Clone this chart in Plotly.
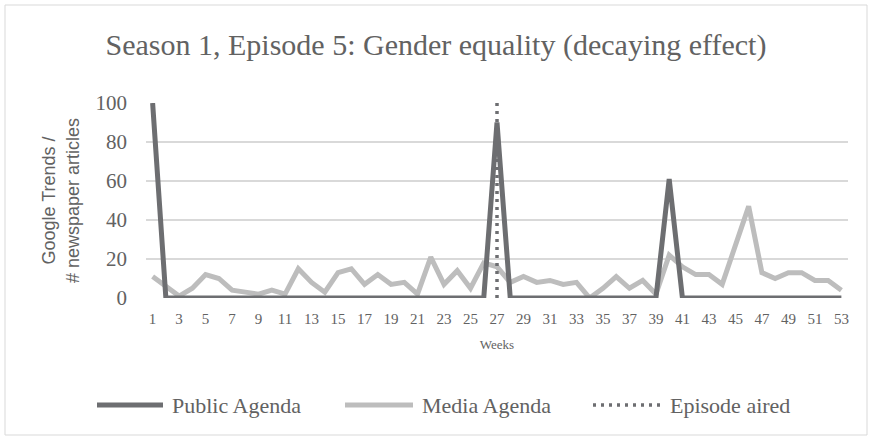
import plotly.graph_objects as go

weeks = list(range(1, 54))
public_agenda = [100, 0, 0, 0, 0, 0, 0, 0, 0, 0, 0, 0, 0, 0, 0, 0, 0, 0, 0, 0,
                 0, 0, 0, 0, 0, 0, 90, 0, 0, 0, 0, 0, 0, 0, 0, 0, 0, 0, 0, 61,
                 0, 0, 0, 0, 0, 0, 0, 0, 0, 0, 0, 0, 0]
media_agenda = [11, 6, 1, 5, 12, 10, 4, 3, 2, 4, 2, 15, 8, 3, 13, 15, 7, 12, 7, 8,
                2, 21, 7, 14, 5, 18, 16, 8, 11, 8, 9, 7, 8, 0, 5, 11, 5, 9, 2, 22,
                16, 12, 12, 7, 27, 47, 13, 10, 13, 13, 9, 9, 4]
episode_week = [27, 27]
episode_y = [0, 100]
x_ticks = list(range(1, 54, 2))
y_ticks = [0, 20, 40, 60, 80, 100]

DARK = "#6d6e71"
LIGHT = "#bdbdbd"
TXT = "#626262"
SERIF = "Liberation Serif, Times New Roman, serif"
SANS = "Liberation Sans, Arial, sans-serif"

fig = go.Figure()
fig.add_trace(go.Scatter(x=weeks, y=media_agenda, mode="lines", name="Media Agenda",
                         line=dict(color=LIGHT, width=5), showlegend=False))
fig.add_trace(go.Scatter(x=weeks, y=public_agenda, mode="lines", name="Public Agenda",
                         line=dict(color=DARK, width=5), showlegend=False))
fig.add_trace(go.Scatter(x=episode_week, y=episode_y, mode="lines", name="Episode aired",
                         line=dict(color=DARK, width=3.5, dash="3px,5px"), showlegend=False))

L, R, T, B = 146, 24, 103, 142
W, H = 872, 440
pw, ph = W - L - R, H - T - B


def px_x(p):
    return (p - L) / pw


def px_y(p):
    return (H - B - p) / ph


shapes = [
    dict(type="rect", xref="paper", yref="paper", x0=px_x(5), x1=px_x(867),
         y0=px_y(5), y1=px_y(435), line=dict(color="#d9d9d9", width=1), layer="below"),
]
legend_items = [
    ("Public Agenda", DARK, 97, 163, "solid", 5, 170),
    ("Media Agenda", LIGHT, 345, 413, "solid", 5, 420),
    ("Episode aired", DARK, 593, 663, "3px,5px", 3.5, 668),
]
annotations = []
ly = 405
for name, col, x0, x1, dash, wd, tx in legend_items:
    shapes.append(dict(type="line", xref="paper", yref="paper", x0=px_x(x0), x1=px_x(x1),
                       y0=px_y(ly), y1=px_y(ly), line=dict(color=col, width=wd, dash=dash)))
    annotations.append(dict(text=name, xref="paper", yref="paper", x=px_x(tx), y=px_y(ly),
                            xanchor="left", yanchor="middle", showarrow=False,
                            font=dict(family=SERIF, size=22, color=TXT)))

fig.update_layout(
    width=W, height=H,
    margin=dict(l=L, r=R, t=T, b=B),
    paper_bgcolor="white", plot_bgcolor="white",
    title=dict(text="Season 1, Episode 5: Gender equality (decaying effect)",
               x=0.5, xanchor="center", xref="container",
               y=1 - 44 / H, yanchor="middle", yref="container",
               font=dict(family=SERIF, size=30, color=TXT)),
    shapes=shapes,
    annotations=annotations,
    showlegend=False,
)
fig.update_xaxes(range=[0.5, 53.5], tickvals=x_ticks, ticktext=[str(v) for v in x_ticks],
                 showgrid=False, zeroline=False, showline=False, ticks="",
                 ticklabelstandoff=10,
                 tickfont=dict(family=SERIF, size=15, color=TXT),
                 title=dict(text="Weeks", standoff=13, font=dict(family=SERIF, size=13, color=TXT)))
fig.update_yaxes(range=[0, 100], tickvals=y_ticks, showgrid=True, gridcolor="#d9d9d9",
                 gridwidth=1.5, zeroline=False, showline=False, ticks="",
                 ticklabelstandoff=18,
                 tickfont=dict(family=SERIF, size=21, color=TXT),
                 title=dict(text="Google Trends /<br># newspaper articles", standoff=11,
                            font=dict(family=SANS, size=18, color=TXT)))

fig.write_html("out.html", config={"displayModeBar": False},
               post_script="document.body.style.margin='0';")
